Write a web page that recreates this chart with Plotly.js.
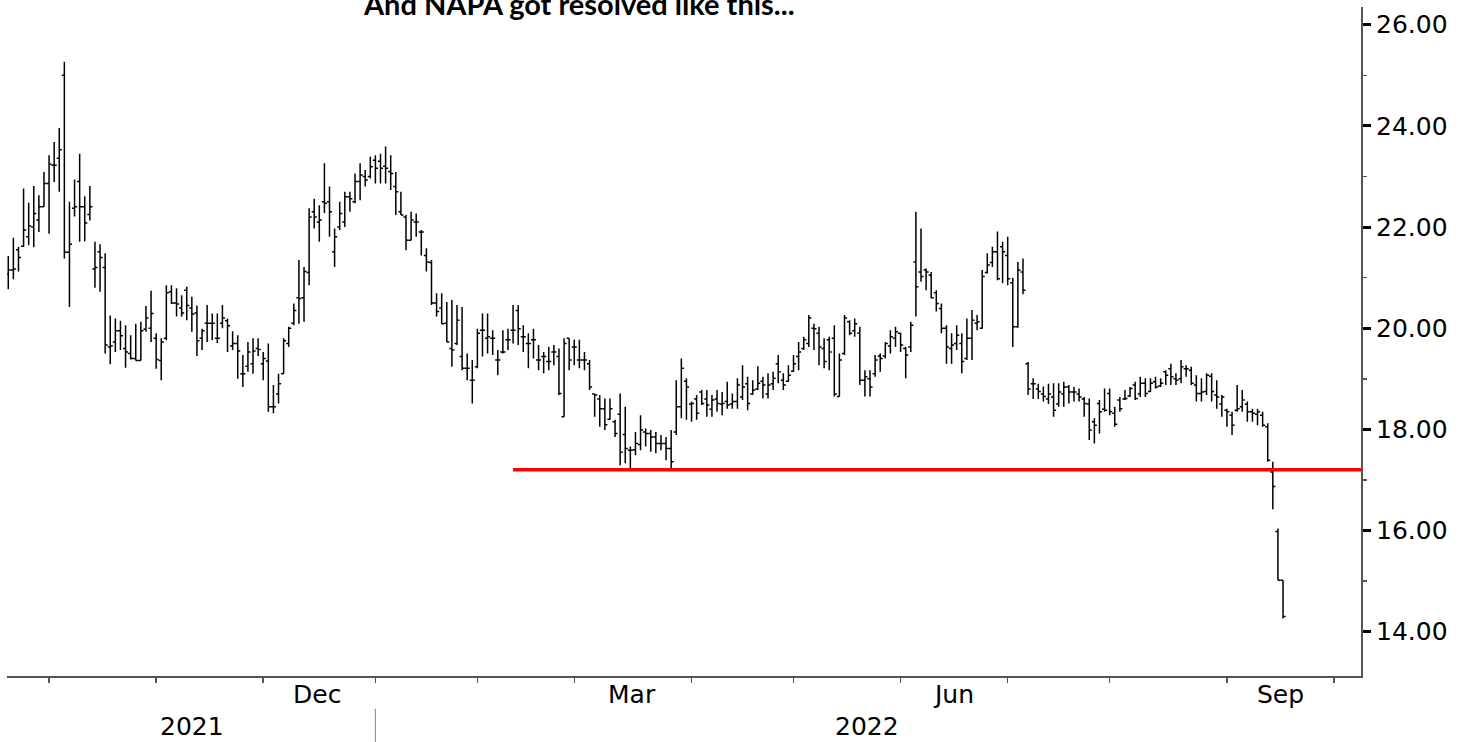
<!DOCTYPE html>
<html>
<head>
<meta charset="utf-8">
<script src="https://cdn.plot.ly/plotly-3.0.1.min.js"></script>
<style>html,body{margin:0;padding:0;background:#fff;}#chart{width:1465px;height:742px;}</style>
</head>
<body>
<div id="chart"></div>
<script>
// ---- Data (daily bars, NAPA) ----
const dates = [
"2021-09-21","2021-09-22","2021-09-23","2021-09-24","2021-09-27","2021-09-28","2021-09-29","2021-09-30",
"2021-10-01","2021-10-04","2021-10-05","2021-10-06","2021-10-07","2021-10-08","2021-10-11","2021-10-12","2021-10-13","2021-10-14","2021-10-15","2021-10-18","2021-10-19","2021-10-20","2021-10-21","2021-10-22","2021-10-25","2021-10-26","2021-10-27","2021-10-28","2021-10-29",
"2021-11-01","2021-11-02","2021-11-03","2021-11-04","2021-11-05","2021-11-08","2021-11-09","2021-11-10","2021-11-11","2021-11-12","2021-11-15","2021-11-16","2021-11-17","2021-11-18","2021-11-19","2021-11-22","2021-11-23","2021-11-24","2021-11-26","2021-11-29","2021-11-30",
"2021-12-01","2021-12-02","2021-12-03","2021-12-06","2021-12-07","2021-12-08","2021-12-09","2021-12-10","2021-12-13","2021-12-14","2021-12-15","2021-12-16","2021-12-17","2021-12-20","2021-12-21","2021-12-22","2021-12-23","2021-12-27","2021-12-28","2021-12-29","2021-12-30","2021-12-31",
"2022-01-03","2022-01-04","2022-01-05","2022-01-06","2022-01-07","2022-01-10","2022-01-11","2022-01-12","2022-01-13","2022-01-14","2022-01-18","2022-01-19","2022-01-20","2022-01-21","2022-01-24","2022-01-25","2022-01-26","2022-01-27","2022-01-28","2022-01-31",
"2022-02-01","2022-02-02","2022-02-03","2022-02-04","2022-02-07","2022-02-08","2022-02-09","2022-02-10","2022-02-11","2022-02-14","2022-02-15","2022-02-16","2022-02-17","2022-02-18","2022-02-22","2022-02-23","2022-02-24","2022-02-25","2022-02-28",
"2022-03-01","2022-03-02","2022-03-03","2022-03-04","2022-03-07","2022-03-08","2022-03-09","2022-03-10","2022-03-11","2022-03-14","2022-03-15","2022-03-16","2022-03-17","2022-03-18","2022-03-21","2022-03-22","2022-03-23","2022-03-24","2022-03-25","2022-03-28","2022-03-29","2022-03-30","2022-03-31",
"2022-04-01","2022-04-04","2022-04-05","2022-04-06","2022-04-07","2022-04-08","2022-04-11","2022-04-12","2022-04-13","2022-04-14","2022-04-18","2022-04-19","2022-04-20","2022-04-21","2022-04-22","2022-04-25","2022-04-26","2022-04-27","2022-04-28","2022-04-29",
"2022-05-02","2022-05-03","2022-05-04","2022-05-05","2022-05-06","2022-05-09","2022-05-10","2022-05-11","2022-05-12","2022-05-13","2022-05-16","2022-05-17","2022-05-18","2022-05-19","2022-05-20","2022-05-23","2022-05-24","2022-05-25","2022-05-26","2022-05-27","2022-05-31",
"2022-06-01","2022-06-02","2022-06-03","2022-06-06","2022-06-07","2022-06-08","2022-06-09","2022-06-10","2022-06-13","2022-06-14","2022-06-15","2022-06-16","2022-06-17","2022-06-21","2022-06-22","2022-06-23","2022-06-24","2022-06-27","2022-06-28","2022-06-29","2022-06-30",
"2022-07-01","2022-07-05","2022-07-06","2022-07-07","2022-07-08","2022-07-11","2022-07-12","2022-07-13","2022-07-14","2022-07-15","2022-07-18","2022-07-19","2022-07-20","2022-07-21","2022-07-22","2022-07-25","2022-07-26","2022-07-27","2022-07-28","2022-07-29",
"2022-08-01","2022-08-02","2022-08-03","2022-08-04","2022-08-05","2022-08-08","2022-08-09","2022-08-10","2022-08-11","2022-08-12","2022-08-15","2022-08-16","2022-08-17","2022-08-18","2022-08-19","2022-08-22","2022-08-23","2022-08-24","2022-08-25","2022-08-26","2022-08-29","2022-08-30","2022-08-31",
"2022-09-01","2022-09-02","2022-09-06","2022-09-07","2022-09-08","2022-09-09","2022-09-12","2022-09-13","2022-09-14","2022-09-15","2022-09-16","2022-09-19"
];

const openPx = [
21.07,21.15,21.55,21.62,21.81,22.00,22.14,22.40,22.86,23.22,23.36,25.00,21.50,22.37,22.90,22.40,22.25,
21.17,21.51,21.20,19.63,19.73,19.95,19.60,19.50,19.40,19.36,19.98,20.00,19.80,19.36,19.80,20.72,20.50,20.40,20.75,20.40,20.30,19.80,
20.10,20.10,19.80,20.10,20.15,19.65,19.70,19.10,19.25,19.30,19.60,19.30,19.35,18.45,18.70,19.10,19.70,20.10,
20.60,20.60,21.10,22.30,22.10,22.50,22.50,21.51,22.00,22.10,22.60,22.50,22.90,23.00,23.00,23.32,23.30,23.20,23.10,22.80,22.30,22.20,21.74,22.10,21.90,21.44,21.30,
20.50,20.40,20.10,19.60,19.70,19.44,19.21,18.97,19.24,19.96,19.80,19.80,19.37,19.53,19.77,19.96,20.35,19.83,19.70,19.77,19.37,19.44,19.34,19.53,19.44,18.25,19.80,
19.63,19.37,19.37,19.30,18.70,18.60,18.41,18.20,18.15,18.30,17.90,17.59,17.60,17.70,17.95,17.92,17.85,17.72,17.72,17.62,17.95,18.45,18.95,
18.50,18.60,18.74,18.60,18.40,18.60,18.50,18.55,18.50,18.55,18.64,18.90,18.70,18.80,18.95,18.70,18.90,19.30,18.97,18.95,
19.15,19.44,19.60,19.70,20.00,19.90,19.60,19.77,19.80,18.65,19.50,20.13,19.95,19.90,18.97,19.00,19.10,19.45,19.45,19.65,19.80,
19.90,19.60,19.63,21.31,21.11,21.15,21.05,20.70,20.39,20.00,19.60,19.70,19.70,19.40,19.80,20.10,20.00,21.10,21.30,21.51,21.61,
21.44,20.90,20.03,21.11,19.30,18.90,18.80,18.70,18.60,18.64,18.50,18.70,18.84,18.74,18.70,18.60,18.50,18.15,18.51,18.40,
18.71,18.32,18.58,18.60,18.66,18.88,18.70,18.91,18.75,18.94,18.86,19.14,19.20,19.00,19.00,19.20,19.17,18.88,18.71,18.75,19.05,18.68,18.50,
18.38,18.28,18.38,18.45,18.50,18.35,18.30,18.28,18.05,17.16,15.98,15.02
];
const highPx = [
21.43,21.79,21.61,22.76,22.48,22.81,22.63,23.09,23.42,23.68,23.96,25.27,22.50,22.94,23.45,22.61,22.81,
21.71,21.66,21.48,20.25,20.19,20.15,20.06,19.86,20.09,20.13,20.44,20.74,19.90,19.80,20.85,20.85,20.79,20.65,20.82,20.62,20.45,19.99,
20.46,20.29,20.29,20.46,20.19,19.94,19.86,19.47,19.73,19.80,19.80,19.53,19.70,18.88,19.10,19.80,20.03,20.49,
21.35,21.21,22.37,22.56,22.43,23.26,22.80,21.97,22.50,22.70,22.70,23.06,23.26,23.13,23.39,23.42,23.45,23.59,23.42,23.09,22.70,22.24,22.30,22.27,21.94,21.58,21.35,
20.69,20.69,20.52,20.56,20.46,20.42,19.50,19.37,19.99,20.29,20.29,19.96,19.57,19.96,19.99,20.46,20.46,20.06,19.90,19.99,19.67,19.53,19.63,19.67,19.60,19.80,19.80,
19.77,19.77,19.53,19.37,18.71,18.68,18.61,18.61,18.19,18.71,18.45,17.66,17.95,18.28,18.02,17.99,17.95,17.89,17.85,17.99,18.97,19.40,19.01,
18.55,18.68,18.78,18.78,18.68,18.78,18.74,18.94,18.71,19.01,19.27,19.04,18.97,19.25,19.04,19.11,19.14,19.47,19.11,19.27,
19.47,19.73,19.83,20.26,20.09,20.03,19.80,19.83,20.06,19.50,20.26,20.16,20.19,20.03,19.17,19.17,19.47,19.50,19.73,19.96,20.03,
19.91,19.63,20.13,22.30,21.97,21.18,21.11,20.75,20.49,20.06,19.90,20.06,19.90,20.19,20.36,20.26,21.15,21.48,21.61,21.91,21.71,
21.81,21.00,21.31,21.38,19.33,19.01,18.90,18.85,18.90,18.91,18.91,18.94,18.88,18.84,18.81,18.64,18.61,18.22,18.58,18.81,
18.81,18.45,18.64,18.78,18.84,18.94,19.04,19.01,19.01,19.04,19.01,19.17,19.30,19.11,19.37,19.27,19.24,19.07,19.01,19.11,19.11,18.97,18.68,
18.41,18.35,18.88,18.78,18.55,18.41,18.41,18.35,18.12,17.36,16.04,15.02
];
const lowPx = [
20.77,20.97,21.12,21.61,21.64,21.60,21.90,22.40,21.87,22.89,22.70,21.38,20.42,22.21,21.71,21.72,22.13,
20.80,20.72,19.50,19.29,19.53,19.57,19.22,19.38,19.36,19.36,19.93,19.73,19.20,18.97,19.76,20.48,20.23,20.23,20.16,19.93,19.45,19.57,
19.73,19.76,19.71,20.00,19.53,19.57,19.00,18.84,19.14,19.10,19.45,18.97,18.35,18.32,18.51,19.10,19.63,20.06,
20.09,20.13,20.85,21.97,21.71,22.28,21.81,21.21,21.94,22.00,22.30,22.47,22.53,22.80,22.96,22.86,22.86,22.86,22.73,22.24,22.24,21.54,21.74,21.81,21.44,21.12,20.46,
20.23,20.09,19.73,19.24,19.67,19.17,18.97,18.51,19.21,19.44,19.50,19.47,19.07,19.50,19.57,19.70,19.67,19.53,19.21,19.40,19.17,19.11,19.17,19.27,18.68,18.25,19.17,
19.27,19.21,19.17,18.78,18.25,18.05,17.99,18.19,17.85,17.29,17.33,17.22,17.49,17.59,17.66,17.56,17.53,17.59,17.39,17.22,17.89,18.22,18.19,
18.15,18.19,18.48,18.25,18.25,18.35,18.28,18.41,18.41,18.41,18.58,18.38,18.68,18.78,18.61,18.61,18.78,18.91,18.78,18.94,
19.14,19.17,19.57,19.63,19.57,19.27,19.21,19.17,18.65,18.65,19.47,19.86,19.83,18.88,18.65,18.65,19.04,19.14,19.40,19.50,19.63,
19.53,19.01,19.53,20.23,20.92,20.75,20.59,20.33,19.90,19.30,19.30,19.57,19.11,19.37,19.37,19.96,19.99,21.08,21.21,20.95,20.89,
20.85,19.63,20.01,20.67,18.68,18.60,18.60,18.55,18.50,18.25,18.45,18.45,18.51,18.55,18.55,18.25,17.79,17.72,17.92,18.35,
18.28,18.05,18.35,18.58,18.64,18.58,18.64,18.64,18.74,18.81,18.84,18.88,18.88,18.88,18.91,19.04,18.88,18.55,18.55,18.68,18.55,18.41,18.25,
18.05,17.89,18.35,18.35,18.15,18.15,18.08,18.05,17.36,16.42,15.02,14.26
];
const closePx = [
21.15,21.17,21.40,21.94,22.02,22.27,22.40,22.86,23.24,23.22,23.53,21.50,21.66,22.40,22.40,22.08,22.40,
21.20,21.40,19.67,19.65,19.95,19.85,19.53,19.40,19.36,19.95,20.20,20.29,19.38,19.73,20.70,20.50,20.48,20.30,20.45,20.28,19.75,19.95,
20.10,20.10,19.80,20.20,20.05,19.70,19.55,19.10,19.53,19.55,19.58,19.40,18.45,18.45,18.90,19.75,20.00,20.35,
20.59,21.12,22.20,22.20,22.14,22.47,22.30,21.81,22.27,22.60,22.56,22.90,23.03,22.93,23.19,23.16,23.16,23.16,23.06,22.70,22.24,21.74,22.14,22.10,21.90,21.31,20.50,
20.33,20.09,19.73,19.57,20.16,19.21,19.21,18.97,19.90,19.96,19.83,19.80,19.37,19.53,19.77,19.96,19.99,19.83,19.70,19.77,19.37,19.44,19.34,19.53,18.71,19.70,19.37,
19.63,19.37,19.37,18.84,18.68,18.41,18.09,18.41,17.92,17.55,17.62,17.59,17.72,17.99,17.92,17.85,17.72,17.72,17.62,17.36,18.45,19.21,18.84,
18.51,18.32,18.51,18.48,18.58,18.51,18.51,18.48,18.55,18.88,18.84,18.51,18.78,18.91,18.88,18.88,19.01,19.14,18.88,19.07,
19.30,19.53,19.77,20.20,19.99,19.63,19.34,19.53,18.70,19.37,20.20,19.90,20.09,18.97,19.04,18.84,19.37,19.40,19.70,19.83,19.93,
19.67,19.47,20.06,20.82,21.02,21.11,20.60,20.49,20.00,19.63,19.67,19.86,19.34,19.80,20.16,20.13,21.02,21.25,21.51,20.98,21.51,
20.98,20.03,21.15,20.75,18.80,18.90,18.75,18.65,18.70,18.38,18.74,18.84,18.74,18.74,18.64,18.51,17.99,18.08,18.35,18.38,
18.35,18.10,18.41,18.61,18.81,18.61,18.91,18.71,18.91,18.84,18.91,19.07,19.04,18.97,19.24,19.20,18.91,18.71,18.74,19.07,18.75,18.64,18.64,
18.35,18.08,18.41,18.58,18.35,18.32,18.35,18.08,17.39,16.87,15.02,14.30
];

// Support level drawn in red (end point on a trading day, beyond the visible range)
const supportLevel = 17.2;
const supportStart = "2022-02-10";
const supportEnd = "2022-12-30";

// Market holidays (non-trading days removed from the axis)
const holidays = ["2021-11-25","2021-12-24","2022-01-17","2022-02-21","2022-04-15","2022-05-30","2022-06-20","2022-07-04","2022-09-05"];

// Month ticks (first trading day of each month), month labels, year labels
const monthTicks = ["2021-10-01","2021-11-01","2021-12-01","2022-01-03","2022-02-01","2022-03-01","2022-04-01","2022-05-02","2022-06-01","2022-07-01","2022-08-01","2022-09-01","2022-10-03"];
const monthLabels = ["Dec","Mar","Jun","Sep"];
const monthLabelAt = ["2021-12-15 12:00","2022-03-16 07:00","2022-06-15 07:00","2022-09-16 10:00"];
const yearLabels = ["2021","2022"];
const yearLabelAt = ["2021-11-10 00:00","2022-05-20 10:00"];
const yearBoundary = "2022-01-01";

const titleText = "And NAPA got resolved like this...";

// ---- Chart ----
const bars = {
  type: 'ohlc',
  x: dates, open: openPx, high: highPx, low: lowPx, close: closePx,
  increasing: {line: {color: '#000000', width: 1.5}},
  decreasing: {line: {color: '#000000', width: 1.5}},
  tickwidth: 0.5,
  hoverinfo: 'skip',
  showlegend: false
};
const support = {
  type: 'scatter', mode: 'lines',
  x: [supportStart, supportEnd], y: [supportLevel, supportLevel],
  line: {color: '#ff0000', width: 3.5},
  connectgaps: true,
  hoverinfo: 'skip', showlegend: false
};

const labelFont = {family: 'DejaVu Sans', size: 25, color: '#000000'};
const annotations = [];
monthLabels.forEach((t, i) => annotations.push({
  xref: 'x', yref: 'paper', x: monthLabelAt[i], y: -0.0275, yanchor: 'middle', xanchor: 'center',
  text: t, showarrow: false, font: labelFont
}));
yearLabels.forEach((t, i) => annotations.push({
  xref: 'x', yref: 'paper', x: yearLabelAt[i], y: -0.0755, yanchor: 'middle', xanchor: 'center',
  text: t, showarrow: false, font: labelFont
}));
annotations.push({
  xref: 'paper', yref: 'paper', x: 0.4225, y: 1.0, yshift: 4, xanchor: 'center', yanchor: 'middle',
  text: '<b>' + titleText + '</b>', showarrow: false,
  font: {family: 'Lato', size: 29, color: '#000000'}
});

const layout = {
  width: 1465, height: 742,
  margin: {l: 7, r: 104, t: 7, b: 66, pad: 0},
  paper_bgcolor: '#ffffff', plot_bgcolor: '#ffffff',
  showlegend: false, hovermode: false,
  font: {family: 'DejaVu Sans', size: 25, color: '#000000'},
  xaxis: {
    type: 'date',
    range: ['2021-09-20 18:00', '2022-10-10 07:00'],
    rangebreaks: [{bounds: ['sat', 'mon']}, {values: holidays, dvalue: 86400000}],
    rangeslider: {visible: false},
    tickmode: 'array', tickvals: monthTicks, showticklabels: false,
    ticks: 'outside', ticklen: 5, tickwidth: 1.5, tickcolor: '#555555',
    showline: true, linecolor: '#555555', linewidth: 2,
    showgrid: false, zeroline: false, fixedrange: true
  },
  yaxis: {
    side: 'right',
    range: [13.125, 26.35],
    tick0: 0, dtick: 2, tickformat: '.2f',
    ticks: 'outside', ticklen: 8, tickwidth: 3, tickcolor: '#000000',
    minor: {dtick: 1, ticks: 'outside', ticklen: 4, tickwidth: 1.5, tickcolor: '#555555'},
    showline: true, linecolor: '#555555', linewidth: 2,
    showgrid: false, zeroline: false, fixedrange: true,
    tickfont: labelFont
  },
  annotations: annotations,
  shapes: [{
    type: 'line', xref: 'x', yref: 'paper',
    x0: yearBoundary, x1: yearBoundary, y0: -0.049, y1: -0.1,
    line: {color: '#888888', width: 1}
  }]
};

Plotly.newPlot('chart', [support, bars], layout, {displayModeBar: false, staticPlot: true});
</script>
</body>
</html>
